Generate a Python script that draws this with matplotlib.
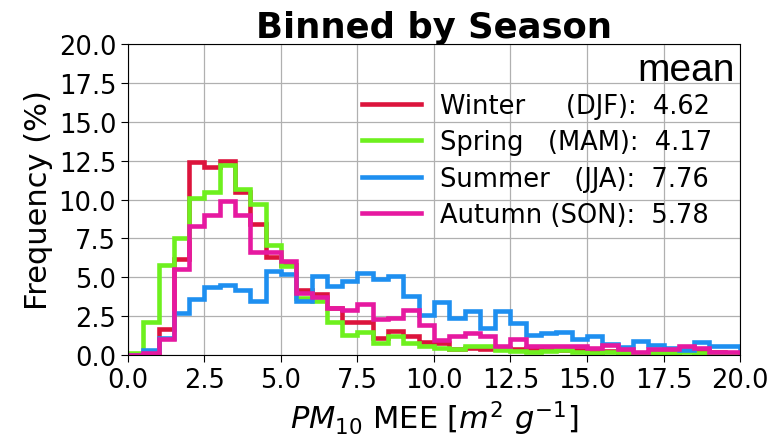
import matplotlib
matplotlib.use("Agg")
import matplotlib.pyplot as plt
import numpy as np

# histogram bin edges (0.5 wide) and frequencies (%) per season
edges = np.arange(0, 20.01, 0.5)

winter = [0, 0.05, 1.7, 6.2, 12.4, 12.1, 12.5, 10.5, 8.4, 6.3,
          5.8, 4.2, 3.9, 3.0, 2.15, 2.1, 1.1, 1.55, 1.2, 0.85,
          0.75, 0.4, 0.45, 0.4, 0.45, 0.4, 0.45, 0.35, 0.3, 0.3,
          0.2, 0.25, 0.2, 0.15, 0.2, 0.3, 0.35, 0.3, 0.2, 0.15]
spring = [0.15, 2.1, 5.8, 7.5, 10.1, 10.5, 12.2, 10.7, 9.7, 7.1,
          5.7, 3.65, 3.5, 2.1, 1.3, 1.45, 0.75, 1.25, 0.75, 0.6,
          0.47, 0.4, 0.6, 0.6, 0.3, 0.25, 0.2, 0.25, 0.3, 0.2,
          0.15, 0.2, 0.15, 0.1, 0.15, 0.15, 0.2, 0.1, 0.1, 0.05]
summer = [0, 0.3, 1.1, 2.7, 3.6, 4.4, 4.5, 4.2, 3.5, 5.4,
          5.2, 3.5, 5.1, 4.45, 4.75, 5.3, 4.9, 5.1, 3.8, 2.6,
          3.4, 2.4, 2.8, 1.75, 2.8, 2.05, 1.3, 1.4, 1.5, 1.0,
          1.2, 0.7, 0.5, 0.9, 0.65, 0.45, 0.35, 0.85, 0.55, 0.55]
autumn = [0, 0.1, 1.0, 5.5, 8.3, 9.0, 9.9, 9.0, 6.6, 6.6,
          6.05, 4.0, 3.7, 3.0, 2.9, 3.3, 2.3, 2.4, 2.9, 1.9,
          0.96, 1.2, 1.4, 1.2, 0.55, 1.0, 0.55, 0.55, 0.6, 0.6,
          0.45, 0.65, 0.4, 0.2, 0.4, 0.4, 0.55, 0.45, 0.2, 0.2]

labels = ["Winter     (DJF):  4.62",
          "Spring   (MAM):  4.17",
          "Summer   (JJA):  7.76",
          "Autumn (SON):  5.78"]
colors = ["#dc143c", "#6ef01e", "#1e8ff0", "#e619a0"]

fig = plt.figure(figsize=(7.69, 4.39), dpi=100)
ax = fig.add_axes([0.1664, 0.189, 0.7959, 0.7085])

for vals, lab, c in zip([winter, spring, summer, autumn], labels, colors):
    ax.stairs(vals, edges, baseline=0, color=c, linewidth=3.3, label=lab)

ax.set_xlim(0, 20)
ax.set_ylim(0, 20)
ax.set_xticks(np.arange(0, 20.01, 2.5))
ax.set_yticks(np.arange(0, 20.01, 2.5))
ax.set_xticklabels(["%.1f" % v for v in np.arange(0, 20.01, 2.5)])
ax.set_yticklabels(["%.1f" % v for v in np.arange(0, 20.01, 2.5)])
ax.tick_params(labelsize=18.5, length=5)
ax.grid(True, color="#b0b0b0", linewidth=0.9)
ax.set_axisbelow(True)

ax.set_title("Binned by Season", fontsize=25.5, fontweight="bold", pad=3)
ax.set_ylabel("Frequency (%)", fontsize=22)
ax.set_xlabel(r"$PM_{10}$ MEE [$m^2$ $g^{-1}$]", fontsize=22)

ax.legend(loc="upper right", bbox_to_anchor=(0.972, 0.875), frameon=False,
          fontsize=18.5, handlelength=2.3, handletextpad=0.75,
          labelspacing=0.4, borderaxespad=0)
ax.text(0.992, 0.885, "mean", transform=ax.transAxes, ha="right",
        va="baseline", fontsize=28, family="Liberation Sans")

fig.savefig("out.png", dpi=100)
